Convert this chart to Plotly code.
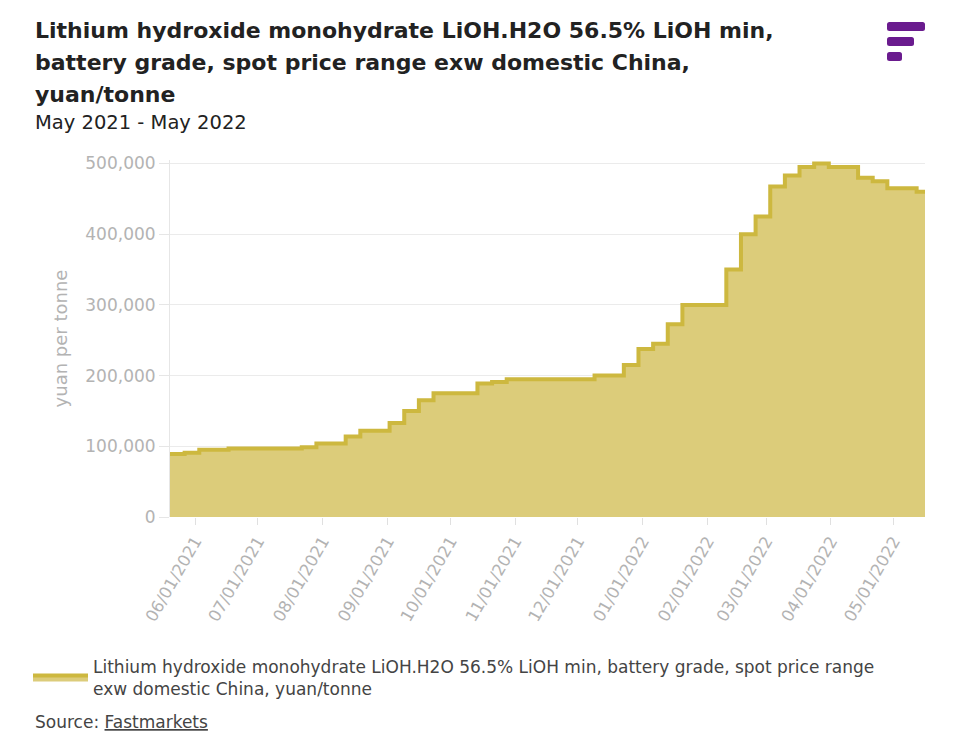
import plotly.graph_objects as go

# Weekly assessment dates where the price changed (plus the last reading)
dates = [
    "2021-05-20", "2021-05-27", "2021-06-03", "2021-06-17", "2021-07-22",
    "2021-07-29", "2021-08-12", "2021-08-19", "2021-09-02", "2021-09-09",
    "2021-09-16", "2021-09-23", "2021-10-14", "2021-10-21", "2021-10-28",
    "2021-12-09", "2021-12-23", "2021-12-30", "2022-01-06", "2022-01-13",
    "2022-01-20", "2022-02-10", "2022-02-17", "2022-02-24", "2022-03-03",
    "2022-03-10", "2022-03-17", "2022-03-24", "2022-03-31", "2022-04-14",
    "2022-04-21", "2022-04-28", "2022-05-12", "2022-05-16",
]
prices = [
    89000, 91000, 95000, 97000, 98500,
    104000, 114000, 122000, 133000, 150000,
    165000, 175000, 189000, 191000, 195000,
    200000, 215000, 237500, 245000, 272500,
    300000, 350000, 400000, 425000, 467500,
    483000, 495000, 500000, 495000, 480000,
    475000, 465000, 460000, 460000,
]

series_name = ("Lithium hydroxide monohydrate LiOH.H2O 56.5% LiOH min, battery grade, spot price range<br>"
               "exw domestic China, yuan/tonne")
title_lines = [
    "Lithium hydroxide monohydrate LiOH.H2O 56.5% LiOH min,",
    "battery grade, spot price range exw domestic China,",
    "yuan/tonne",
]
subtitle = "May 2021 - May 2022"

FONT = "DejaVu Sans"
LINE = "#CDB83F"
FILL = "rgba(220,204,122,1)"
PURPLE = "#6A1B8E"
GREY = "#b3b3b3"

# the page puts the figure 8px in from the corner
OFF = 8
W, H = 975, 745
L, R, T, B = 162, 58, 152, 236
PH = H - T - B
PW = W - L - R


def px_x(x):
    return (x - OFF - L) / PW


def px_y(y):
    return (H - B - (y - OFF)) / PH


def rounded_bar(x0, x1, y0, y1, r=2.5):
    # rounded rectangle in paper coords, from pixel corners
    ax0, ax1 = px_x(x0), px_x(x1)
    ay0, ay1 = px_y(y1), px_y(y0)
    rx, ry = r / PW, r / PH
    return (f"M{ax0 + rx},{ay0} L{ax1 - rx},{ay0} Q{ax1},{ay0} {ax1},{ay0 + ry} "
            f"L{ax1},{ay1 - ry} Q{ax1},{ay1} {ax1 - rx},{ay1} "
            f"L{ax0 + rx},{ay1} Q{ax0},{ay1} {ax0},{ay1 - ry} "
            f"L{ax0},{ay0 + ry} Q{ax0},{ay0} {ax0 + rx},{ay0} Z")


fig = go.Figure()
fig.add_trace(go.Scatter(
    x=dates, y=prices, name=series_name,
    mode="lines", line=dict(color=LINE, width=4, shape="hv"),
    fill="tozeroy", fillcolor=FILL,
))

annotations = []
for i, t in enumerate(title_lines):
    annotations.append(dict(
        text="<b>" + t + "</b>", x=px_x(33), y=px_y(31 + 31.5 * i),
        xref="paper", yref="paper", xanchor="left", yanchor="middle",
        showarrow=False, font=dict(family=FONT, size=22, color="#222222"),
    ))
annotations.append(dict(
    text=subtitle, x=px_x(33), y=px_y(123), xref="paper", yref="paper",
    xanchor="left", yanchor="middle", showarrow=False,
    font=dict(family=FONT, size=19.5, color="#222222"),
))
annotations.append(dict(
    text="Source: <u>Fastmarkets</u>", x=px_x(33), y=px_y(722),
    xref="paper", yref="paper", xanchor="left", yanchor="middle",
    showarrow=False, font=dict(family=FONT, size=17, color="#444444"),
))

# logo bars
shapes = []
for (x0, x1, y0, y1) in [(887, 925, 22, 31), (887, 914, 37, 46), (887, 902, 52, 61)]:
    shapes.append(dict(type="path", xref="paper", yref="paper",
                       path=rounded_bar(x0, x1, y0, y1),
                       fillcolor=PURPLE, line=dict(width=0)))

fig.update_layout(
    width=W, height=H,
    margin=dict(l=L, r=R, t=T, b=B, autoexpand=False),
    paper_bgcolor="white", plot_bgcolor="white",
    font=dict(family=FONT, color="#444444"),
    showlegend=True,
    legend=dict(x=px_x(28), y=px_y(649), xanchor="left", yanchor="top",
                font=dict(family=FONT, size=17, color="#444444"),
                itemwidth=55, bgcolor="rgba(0,0,0,0)"),
    annotations=annotations,
    shapes=shapes,
    xaxis=dict(
        type="date", range=["2021-05-20", "2022-05-16"],
        tick0="2021-06-01", dtick="M1", tickformat="%m/%d/%Y",
        tickangle=-60, ticks="outside", ticklen=7, tickcolor="#e0e0e0",
        tickfont=dict(family=FONT, size=16.5, color=GREY),
        showgrid=False, showline=False, zeroline=False,
    ),
    yaxis=dict(
        range=[0, 505000], tickvals=[0, 100000, 200000, 300000, 400000, 500000],
        tickformat=",d", ticks="outside", ticklen=10, tickcolor="#e6e6e6",
        tickfont=dict(family=FONT, size=17, color=GREY),
        showgrid=True, gridcolor="#ebebeb", gridwidth=1,
        showline=True, linecolor="#e6e6e6", zeroline=False,
        title=dict(text="yuan per tonne", standoff=12,
                   font=dict(family=FONT, size=18, color=GREY)),
    ),
)

fig.write_html("out.html")
